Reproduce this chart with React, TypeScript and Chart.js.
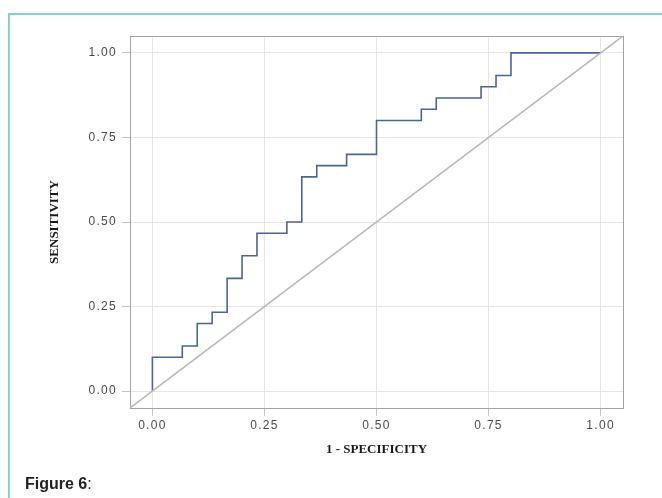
import React, { useEffect, useRef } from "react";
import { Chart, registerables } from "chart.js";

Chart.register(...registerables);

// ROC curve corner points (1 - specificity, sensitivity)
const fpr = [0, 0, 0.0667, 0.1, 0.1333, 0.1667, 0.2, 0.2333, 0.3, 0.3333, 0.3667, 0.4333, 0.5, 0.6, 0.6333, 0.7333, 0.7667, 0.8, 1.0];
const tpr = [0, 0.1, 0.1333, 0.2, 0.2333, 0.3333, 0.4, 0.4667, 0.5, 0.6333, 0.6667, 0.7, 0.8, 0.8333, 0.8667, 0.9, 0.9333, 1.0, 1.0];

const tickValues = [0, 0.25, 0.5, 0.75, 1.0];
const axisMin = -0.05;
const axisMax = 1.05;

const xTitle = "1 - SPECIFICITY";
const yTitle = "SENSITIVITY";

const framePlugin = {
  id: "frame",
  beforeDatasetsDraw(chart: any) {
    const { ctx, chartArea } = chart;
    ctx.save();
    ctx.strokeStyle = "#a3a3a3";
    ctx.lineWidth = 1;
    ctx.strokeRect(
      Math.round(chartArea.left) + 0.5,
      Math.round(chartArea.top) + 0.5,
      Math.round(chartArea.right - chartArea.left),
      Math.round(chartArea.bottom - chartArea.top)
    );
    ctx.restore();
  },
  afterDatasetsDraw(chart: any) {
    (chart.ctx as any).letterSpacing = "1.3px";
  },
  afterDraw(chart: any) {
    (chart.ctx as any).letterSpacing = "0px";
  },
};

export default function App() {
  const ref = useRef<HTMLCanvasElement | null>(null);

  useEffect(() => {
    if (!ref.current) return;
    const rocPoints = fpr.map((x, i) => ({ x, y: tpr[i] }));
    const diagPoints = [
      { x: axisMin, y: axisMin },
      { x: axisMax, y: axisMax },
    ];
    const tickFont = { family: "'Liberation Sans', Arial, sans-serif", size: 12 };
    const titleFont = { family: "'Liberation Serif', 'Times New Roman', serif", size: 13, weight: "bold" as const };
    const setTicks = (axis: any) => {
      axis.ticks = tickValues.map((v) => ({ value: v }));
    };
    const chart = new Chart(ref.current, {
      type: "scatter",
      data: {
        datasets: [
          {
            data: diagPoints,
            showLine: true,
            borderColor: "#b8b8b8",
            borderWidth: 1.5,
            pointRadius: 0,
          },
          {
            data: rocPoints,
            showLine: true,
            stepped: "before",
            borderColor: "#4a6794",
            borderWidth: 1.6,
            pointRadius: 0,
          },
        ],
      },
      options: {
        animation: false,
        responsive: false,
        layout: { padding: { left: 43, right: 39, top: 36, bottom: 37 } },
        plugins: {
          legend: { display: false },
          tooltip: { enabled: false },
        },
        scales: {
          x: {
            type: "linear",
            min: axisMin,
            max: axisMax,
            afterBuildTicks: setTicks,
            afterFit: (s: any) => {
              s.height = 53;
            },
            grid: {
              color: "#e6e6e6",
              tickColor: "#c4c4c4",
              tickLength: 8,
              drawTicks: true,
            },
            border: { display: false },
            ticks: {
              z: 1,
              padding: 2,
              color: "#4a4a4a",
              font: tickFont,
              maxRotation: 0,
              callback: (v: any) => Number(v).toFixed(2),
            },
            title: {
              display: true,
              text: xTitle,
              color: "#1a1a1a",
              font: titleFont,
              padding: { top: 4, bottom: 4 },
            },
          },
          y: {
            type: "linear",
            min: axisMin,
            max: axisMax,
            afterBuildTicks: setTicks,
            afterFit: (s: any) => {
              s.width = 87;
            },
            grid: {
              color: "#e6e6e6",
              tickColor: "#c4c4c4",
              tickLength: 8,
              drawTicks: true,
            },
            border: { display: false },
            ticks: {
              z: 1,
              padding: 5,
              color: "#4a4a4a",
              font: tickFont,
              callback: (v: any) => Number(v).toFixed(2),
            },
            title: {
              display: true,
              text: yTitle,
              color: "#1a1a1a",
              font: titleFont,
              padding: { top: 4, bottom: 4 },
            },
          },
        },
      },
      plugins: [framePlugin],
    });
    return () => chart.destroy();
  }, []);

  return (
    <div
      style={{
        position: "fixed",
        left: 0,
        top: 0,
        width: 662,
        height: 498,
        background: "#fff",
        overflow: "hidden",
      }}
    >
      <div
        style={{
          position: "absolute",
          left: 8,
          top: 13,
          width: 720,
          height: 600,
          borderLeft: "2px solid #80d5ca",
          borderTop: "2px solid #80d5ca",
        }}
      />
      <canvas
        ref={ref}
        width={662}
        height={498}
        style={{ position: "absolute", left: 0, top: 0, width: 662, height: 498 }}
      />
      <div
        style={{
          position: "absolute",
          left: 25,
          top: 475,
          fontFamily: "'Liberation Sans', Arial, sans-serif",
          fontSize: 16,
          color: "#222",
          whiteSpace: "nowrap",
        }}
      >
        <b>Figure 6</b>:
      </div>
    </div>
  );
}
